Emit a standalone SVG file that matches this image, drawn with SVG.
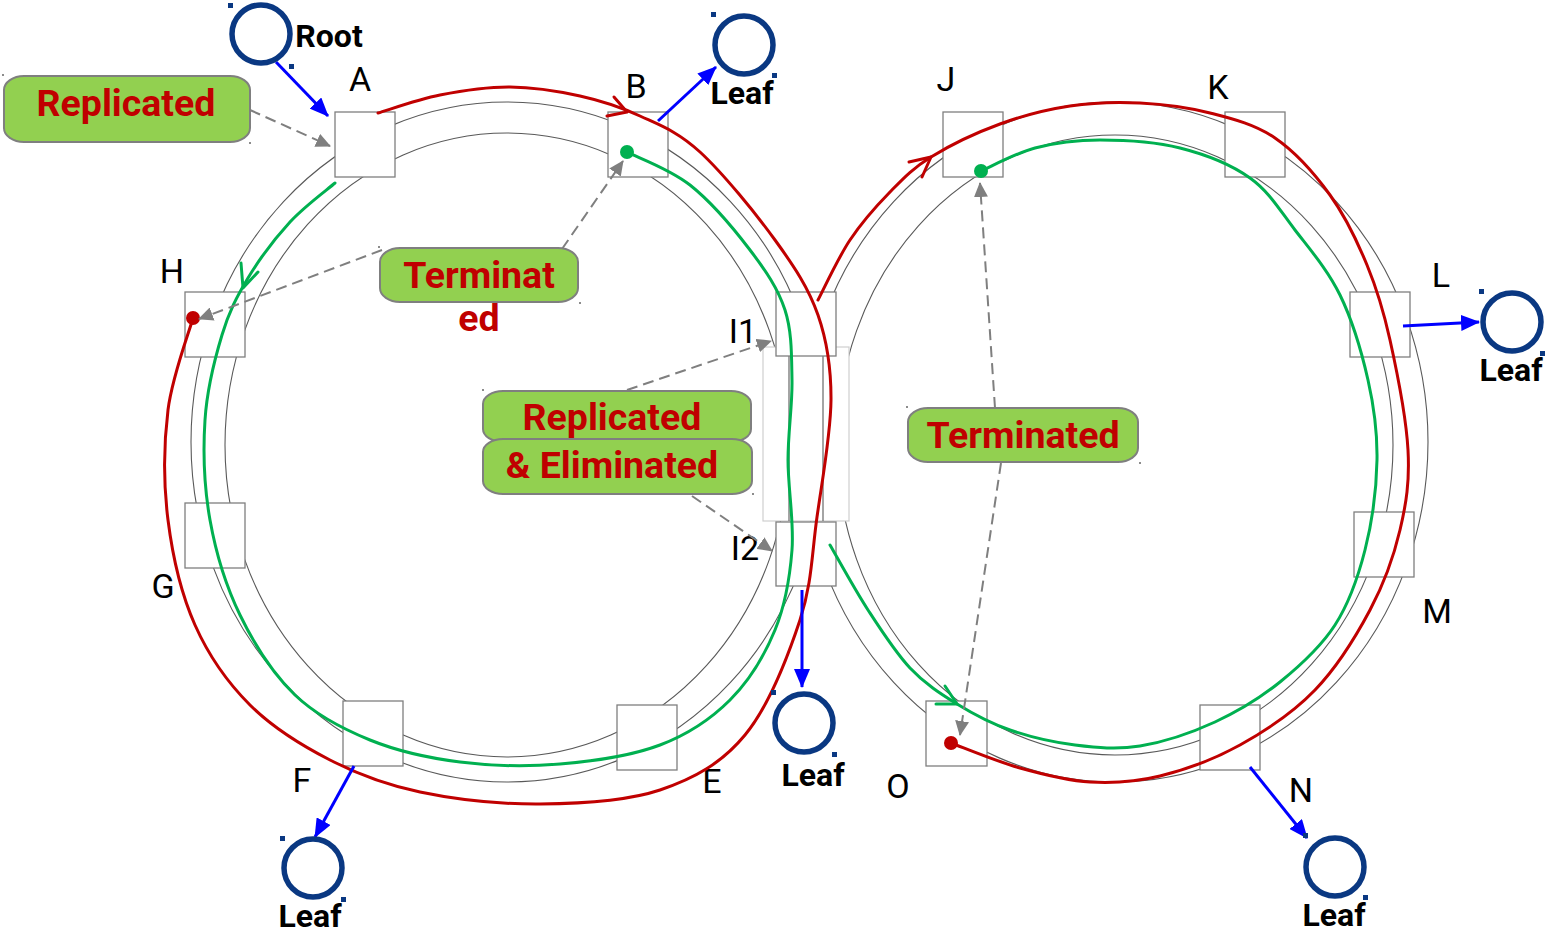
<svg xmlns="http://www.w3.org/2000/svg" width="1545" height="933" viewBox="0 0 1545 933">
  <style>
    .ring { fill: none; stroke: #595959; stroke-width: 1.1; }
    .box { fill: #ffffff; stroke: #7f7f7f; stroke-width: 1.3; }
    .node-label { font-family: Roboto, "Liberation Sans", sans-serif; font-size: 34px; fill: #000000; text-anchor: middle; }
    .red { fill: none; stroke: #c00000; stroke-width: 3; stroke-linecap: round; stroke-linejoin: round; }
    .green { fill: none; stroke: #00b050; stroke-width: 3; stroke-linecap: round; stroke-linejoin: round; }
    .dash { fill: none; stroke: #7f7f7f; stroke-width: 2; stroke-dasharray: 11 6; marker-end: url(#grayArrow); }
    .blue { fill: none; stroke: #0000ff; stroke-width: 3; marker-end: url(#blueArrow); }
    .callout { fill: #92d050; stroke: #7f7f7f; stroke-width: 2; }
    .callout-text { font-family: Roboto, "Liberation Sans", sans-serif; font-weight: bold; font-size: 37.5px; fill: #c00000; text-anchor: middle; }
    .host { fill: none; stroke: #0a3882; stroke-width: 5.5; }
    .handle { fill: #0a3882; }
    .tick { fill: #8c8c8c; }
    .host-text { font-family: Roboto, "Liberation Sans", sans-serif; font-weight: bold; font-size: 32px; fill: #000000; text-anchor: middle; }
  </style>
  <defs>
    <marker id="grayArrow" markerUnits="userSpaceOnUse" markerWidth="16" markerHeight="14" refX="14" refY="7" orient="auto">
      <path d="M0,0 L15,7 L0,14 Z" fill="#7f7f7f"/>
    </marker>
    <marker id="blueArrow" markerUnits="userSpaceOnUse" markerWidth="20" markerHeight="16" refX="18" refY="8" orient="auto">
      <path d="M0,0 L19,8 L0,16 Z" fill="#0000ff"/>
    </marker>
  </defs>

  <rect x="0" y="0" width="1545" height="933" fill="#ffffff"/>

  <!-- ring outlines -->
  <g id="rings">
    <ellipse class="ring" cx="507" cy="442" rx="316" ry="340"/>
    <ellipse class="ring" cx="507" cy="445" rx="282" ry="312"/>
    <ellipse class="ring" cx="1115" cy="442" rx="313" ry="340"/>
    <ellipse class="ring" cx="1115" cy="445" rx="278" ry="310"/>
    <!-- shared span between the two rings -->
    <rect x="763" y="347" width="86" height="174" fill="#ffffff" stroke="#cfcfcf" stroke-width="1.2"/>
    <line x1="789" y1="347" x2="789" y2="521" stroke="#595959" stroke-width="1.1"/>
    <line x1="823" y1="347" x2="823" y2="521" stroke="#595959" stroke-width="1.1"/>
  </g>

  <!-- switch nodes -->
  <g id="node-A"><rect class="box" x="335" y="112" width="60" height="65"/><text class="node-label" x="360" y="91">A</text></g>
  <g id="node-B"><rect class="box" x="608" y="112" width="60" height="65"/><text class="node-label" x="636" y="98">B</text></g>
  <g id="node-H"><rect class="box" x="185" y="292" width="60" height="65"/><text class="node-label" x="172" y="283">H</text></g>
  <g id="node-G"><rect class="box" x="185" y="503" width="60" height="65"/><text class="node-label" x="163" y="598">G</text></g>
  <g id="node-F"><rect class="box" x="343" y="701" width="60" height="65"/><text class="node-label" x="302" y="792">F</text></g>
  <g id="node-E"><rect class="box" x="617" y="705" width="60" height="65"/><text class="node-label" x="712" y="793">E</text></g>
  <g id="node-I1"><rect class="box" x="776" y="292" width="60" height="64"/><text class="node-label" x="743" y="343">I1</text></g>
  <g id="node-I2"><rect class="box" x="776" y="522" width="60" height="64"/><text class="node-label" x="745" y="560">I2</text></g>
  <g id="node-J"><rect class="box" x="943" y="112" width="60" height="65"/><text class="node-label" x="946" y="91">J</text></g>
  <g id="node-K"><rect class="box" x="1225" y="112" width="60" height="65"/><text class="node-label" x="1218" y="99">K</text></g>
  <g id="node-L"><rect class="box" x="1350" y="292" width="60" height="65"/><text class="node-label" x="1441" y="287">L</text></g>
  <g id="node-M"><rect class="box" x="1354" y="512" width="60" height="65"/><text class="node-label" x="1437" y="623">M</text></g>
  <g id="node-N"><rect class="box" x="1200" y="705" width="60" height="65"/><text class="node-label" x="1301" y="802">N</text></g>
  <g id="node-O"><rect class="box" x="926" y="701" width="61" height="65"/><text class="node-label" x="898" y="798">O</text></g>

  <!-- connectors: frame paths, annotation arrows, host links -->
  <g id="connectors">
    <!-- red stream, left ring: A clockwise to H -->
    <path class="red" d="M378,113 C388.3,110 418,99.3 440,95 C462,90.7 486.7,86.8 510,87 C533.3,87.2 558.3,91.2 580,96 C601.7,100.8 620,106.7 640,116 C660,125.3 677.5,131.3 700,152 C722.5,172.7 755.3,212.8 775,240 C794.7,267.2 808.7,288.3 818,315 C827.3,341.7 831.2,366.3 831,400 C830.8,433.7 822.2,480.3 817,517 C811.8,553.7 812,583.7 800,620 C788,656.3 768.3,706.7 745,735 C721.7,763.3 694.2,778.5 660,790 C625.8,801.5 580,803.7 540,804 C500,804.3 455,799.3 420,792 C385,784.7 358.3,774.5 330,760 C301.7,745.5 272.5,727.5 250,705 C227.5,682.5 208.7,655.8 195,625 C181.3,594.2 172.5,555.8 168,520 C163.5,484.2 163.8,443.7 168,410 C172.2,376.3 188.8,333.3 193,318"/>
    <polyline class="red" points="614,97 627,112 607,116"/>
    <!-- red stream, right ring: I1 to O -->
    <path class="red" d="M818,300 C823.3,290 838,258 850,240 C862,222 876.5,205.8 890,192 C903.5,178.2 912.7,168.3 931,157 C949.3,145.7 976.8,132.5 1000,124 C1023.2,115.5 1046.7,109.5 1070,106 C1093.3,102.5 1116.7,101.8 1140,103 C1163.3,104.2 1187.5,107.2 1210,113 C1232.5,118.8 1255,124.3 1275,138 C1295,151.7 1314.7,173.8 1330,195 C1345.3,216.2 1357,240.8 1367,265 C1377,289.2 1383.2,309.2 1390,340 C1396.8,370.8 1406.3,418.3 1408,450 C1409.7,481.7 1406.3,503.3 1400,530 C1393.7,556.7 1384.2,583.3 1370,610 C1355.8,636.7 1336.7,667.5 1315,690 C1293.3,712.5 1265.8,730.7 1240,745 C1214.2,759.3 1185,769.8 1160,776 C1135,782.2 1113.3,783.3 1090,782 C1066.7,780.7 1043.2,774.5 1020,768 C996.8,761.5 962.5,747.2 951,743"/>
    <polyline class="red" points="909,162 931,157 922,177"/>
    <!-- green stream, left ring: A counter-clockwise to B -->
    <path class="green" d="M627,152 C637.5,157.5 669.5,168.7 690,185 C710.5,201.3 734.2,229.2 750,250 C765.8,270.8 778,288.3 785,310 C792,331.7 791.5,355 792,380 C792.5,405 788,431.7 788,460 C788,488.3 794.2,521.7 792,550 C789.8,578.3 785.3,605 775,630 C764.7,655 749.2,680.8 730,700 C710.8,719.2 688.3,734.3 660,745 C631.7,755.7 593.3,761.2 560,764 C526.7,766.8 491.7,766 460,762 C428.3,758 397.5,751.2 370,740 C342.5,728.8 316.7,715.8 295,695 C273.3,674.2 254.2,644.2 240,615 C225.8,585.8 215.8,552.5 210,520 C204.2,487.5 203,450.8 205,420 C207,389.2 214.8,358.7 222,335 C229.2,311.3 236.7,296.8 248,278 C259.3,259.2 275.5,237.8 290,222 C304.5,206.2 327.5,189.5 335,183"/>
    <polyline class="green" points="241,263 243,288 258,272"/>
    <!-- green stream, right ring: I2 to J -->
    <path class="green" d="M830,545 C836.3,555.8 854.7,589.5 868,610 C881.3,630.5 895.2,652.3 910,668 C924.8,683.7 940.3,693.7 957,704 C973.7,714.3 990.3,723.2 1010,730 C1029.7,736.8 1053.3,742.3 1075,745 C1096.7,747.7 1116.7,749.8 1140,746 C1163.3,742.2 1191.7,732.7 1215,722 C1238.3,711.3 1260,698.2 1280,682 C1300,665.8 1320.8,647 1335,625 C1349.2,603 1358,577.5 1365,550 C1372,522.5 1376.5,488.3 1377,460 C1377.5,431.7 1374.2,407.5 1368,380 C1361.8,352.5 1352.2,320 1340,295 C1327.8,270 1310,249.5 1295,230 C1280,210.5 1269.2,191.7 1250,178 C1230.8,164.3 1205,154.3 1180,148 C1155,141.7 1124.2,140 1100,140 C1075.8,140 1054.8,142.8 1035,148 C1015.2,153.2 990,167.2 981,171"/>
    <polyline class="green" points="945,686 957,704 936,704"/>

    <!-- termination points -->
    <circle cx="193" cy="318" r="7" fill="#c00000"/>
    <circle cx="951" cy="743" r="7" fill="#c00000"/>
    <circle cx="627" cy="152" r="7" fill="#00b050"/>
    <circle cx="981" cy="171" r="7" fill="#00b050"/>

    <!-- annotation pointers -->
    <line class="dash" x1="250" y1="110" x2="330" y2="146"/>
    <line class="dash" x1="562" y1="249" x2="623" y2="161"/>
    <line class="dash" x1="382" y1="250" x2="199" y2="319"/>
    <line class="dash" x1="627" y1="390" x2="771" y2="341"/>
    <line class="dash" x1="692" y1="496" x2="772" y2="551"/>
    <line class="dash" x1="995" y1="408" x2="980" y2="183"/>
    <line class="dash" x1="1001" y1="463" x2="960" y2="735"/>

    <!-- host links -->
    <line class="blue" x1="276" y1="62" x2="328" y2="116"/>
    <line class="blue" x1="658" y1="121" x2="716" y2="67"/>
    <line class="blue" x1="1403" y1="326" x2="1479" y2="322"/>
    <line class="blue" x1="802" y1="590" x2="802" y2="687"/>
    <line class="blue" x1="1250" y1="767" x2="1307" y2="838"/>
    <line class="blue" x1="354" y1="766" x2="315" y2="837"/>
  </g>

  <!-- hosts -->
  <g id="host-root">
    <circle class="host" cx="261" cy="34" r="29"/>
    <rect class="handle" x="228" y="3" width="5" height="5"/><rect class="handle" x="289" y="64" width="5" height="5"/>
    <text class="host-text" x="329" y="47">Root</text>
  </g>
  <g id="host-leaf-B">
    <circle class="host" cx="744" cy="45" r="29"/>
    <rect class="handle" x="711" y="12" width="5" height="5"/><rect class="handle" x="772" y="73" width="5" height="5"/>
    <text class="host-text" x="742" y="104">Leaf</text>
  </g>
  <g id="host-leaf-L">
    <circle class="host" cx="1512" cy="322" r="29"/>
    <rect class="handle" x="1479" y="289" width="5" height="5"/><rect class="handle" x="1540" y="351" width="5" height="5"/>
    <text class="host-text" x="1511" y="381">Leaf</text>
  </g>
  <g id="host-leaf-I2">
    <circle class="host" cx="804" cy="723" r="29"/>
    <rect class="handle" x="771" y="690" width="5" height="5"/><rect class="handle" x="832" y="752" width="5" height="5"/>
    <text class="host-text" x="813" y="786">Leaf</text>
  </g>
  <g id="host-leaf-N">
    <circle class="host" cx="1335" cy="867" r="29"/>
    <rect class="handle" x="1303" y="833" width="5" height="5"/><rect class="handle" x="1363" y="895" width="5" height="5"/>
    <text class="host-text" x="1334" y="926">Leaf</text>
  </g>
  <g id="host-leaf-F">
    <circle class="host" cx="313" cy="868" r="29"/>
    <rect class="handle" x="280" y="836" width="5" height="5"/><rect class="handle" x="341" y="897" width="5" height="5"/>
    <text class="host-text" x="310" y="927">Leaf</text>
  </g>

  <!-- callouts -->
  <g id="callout-replicated">
    <rect class="callout" x="4" y="76" width="246" height="66" rx="20" ry="14"/>
    <rect class="tick" x="2" y="74" width="2" height="2"/><rect class="tick" x="249" y="142" width="2" height="2"/>
    <text class="callout-text" x="126" y="116">Replicated</text>
  </g>
  <g id="callout-terminated-left">
    <rect class="callout" x="380" y="248" width="198" height="54" rx="20" ry="14"/>
    <rect class="tick" x="378" y="246" width="2" height="2"/><rect class="tick" x="579" y="302" width="2" height="2"/>
    <text class="callout-text" x="479" y="288">Terminat</text>
    <text class="callout-text" x="479" y="331">ed</text>
  </g>
  <g id="callout-replicated-eliminated">
    <rect class="callout" x="483" y="391" width="268" height="51" rx="20" ry="13"/>
    <rect class="callout" x="483" y="439" width="269" height="55" rx="20" ry="13"/>
    <rect class="tick" x="482" y="389" width="2" height="2"/><rect class="tick" x="752" y="493" width="2" height="2"/>
    <text class="callout-text" x="612" y="430">Replicated</text>
    <text class="callout-text" x="612" y="478">&amp; Eliminated</text>
  </g>
  <g id="callout-terminated-right">
    <rect class="callout" x="908" y="408" width="230" height="54" rx="20" ry="14"/>
    <rect class="tick" x="906" y="406" width="2" height="2"/><rect class="tick" x="1139" y="462" width="2" height="2"/>
    <text class="callout-text" x="1023" y="448">Terminated</text>
  </g>
</svg>
